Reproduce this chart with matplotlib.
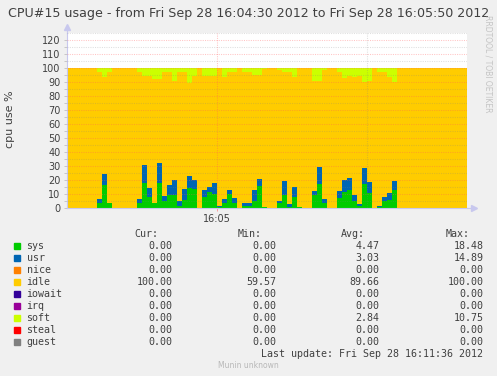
#!/usr/bin/env python3
# -*- coding: utf-8 -*-

"""
Munin style CPU usage graph (one second per step), redrawn with matplotlib.
"""

import numpy as np
from matplotlib import pyplot as plt
from matplotlib.patches import Rectangle

W, H = 497, 376

# DATA ######################################################################

# one value per second from 16:04:30 to 16:05:50
cpu_sys = [0, 0, 0, 0, 0, 0, 3.3, 16.4, 3.8, 0,
           0, 0, 0, 0, 3.3, 18.0, 8.0, 3.3, 18.0, 5.0,
           9.3, 9.3, 1.7, 5.7, 14.5, 13.6, 0, 8.0, 11.2, 9.8,
           0.5, 3.3, 9.8, 3.3, 0, 1.7, 1.7, 5.2, 15.5, 0.5,
           0, 0, 3.3, 9.3, 1.0, 8.0, 0.5, 0, 0, 9.3,
           17.1, 3.3, 0, 0, 7.4, 11.7, 12.9, 5.2, 1.7, 17.1,
           10.5, 0, 1.0, 5.2, 5.7, 13.1, 0, 0, 0, 0,
           0, 0, 0, 0, 0, 0, 0, 0, 0, 0]

cpu_usr = [0, 0, 0, 0, 0, 0, 3.1, 8.1, 0, 0,
           0, 0, 0, 0, 3.1, 12.7, 6.5, 0.5, 14.0, 3.6,
           7.1, 10.7, 3.5, 7.9, 8.4, 6.4, 0, 4.9, 4.0, 7.8,
           1.2, 3.1, 3.1, 3.6, 0, 2.1, 1.6, 7.7, 5.2, 0,
           0, 0, 1.7, 10.2, 1.6, 6.8, 0, 0, 0, 2.8,
           11.9, 3.1, 0, 0, 4.7, 8.3, 8.3, 4.1, 0.9, 11.5,
           8.1, 0, 0.7, 2.4, 4.8, 6.2, 0, 0, 0, 0,
           0, 0, 0, 0, 0, 0, 0, 0, 0, 0]

cpu_idle = [100, 100, 100, 100, 100, 100, 90.5, 68.8, 93.1, 100,
            100, 100, 100, 100, 90.5, 63.8, 80.0, 88.6, 60.4, 88.3,
            80.5, 71.0, 91.7, 83.3, 66.4, 74.5, 100, 81.6, 79.3, 76.4,
            98.3, 87.4, 84.5, 90.5, 100, 93.1, 93.6, 82.1, 74.3, 99.0,
            100, 100, 93.5, 77.4, 94.3, 78.5, 99.5, 100, 100, 78.9,
            61.5, 92.2, 100, 100, 84.8, 72.9, 73.3, 84.0, 91.9, 61.2,
            72.4, 100, 95.2, 89.3, 82.8, 70.5, 100, 100, 100, 100,
            100, 100, 100, 100, 100, 100, 100, 100, 100, 100]

cpu_soft = [0, 0, 0, 0, 0, 0, 3.1, 6.7, 3.1, 0,
            0, 0, 0, 0, 3.1, 5.5, 5.5, 7.6, 7.6, 3.1,
            3.1, 9.0, 3.1, 3.1, 10.7, 5.5, 0, 5.5, 5.5, 6.0,
            0, 6.2, 2.6, 2.6, 0, 3.1, 3.1, 5.0, 5.0, 0.5,
            0, 0, 1.5, 3.1, 3.1, 6.7, 0, 0, 0, 9.0,
            9.5, 1.4, 0, 0, 3.1, 7.1, 5.5, 6.7, 5.5, 10.2,
            9.0, 0, 3.1, 3.1, 6.7, 10.2, 0, 0, 0, 0,
            0, 0, 0, 0, 0, 0, 0, 0, 0, 0]

# legend table
names = ['sys', 'usr', 'nice', 'idle', 'iowait', 'irq', 'soft', 'steal', 'guest']
colors = ['#00cc00', '#0066b3', '#ff8000', '#ffcc00', '#330099',
          '#990099', '#ccff00', '#ff0000', '#808080']
cur = [0.00, 0.00, 0.00, 100.00, 0.00, 0.00, 0.00, 0.00, 0.00]
vmin = [0.00, 0.00, 0.00, 59.57, 0.00, 0.00, 0.00, 0.00, 0.00]
vavg = [4.47, 3.03, 0.00, 89.66, 0.00, 0.00, 2.84, 0.00, 0.00]
vmax = [18.48, 14.89, 0.00, 100.00, 0.00, 0.00, 10.75, 0.00, 0.00]

y_ticks = list(range(0, 130, 10))
x_tick_pos = [30]
x_tick_labels = ['16:05']

TITLE = 'CPU#15 usage - from Fri Sep 28 16:04:30 2012 to Fri Sep 28 16:05:50 2012'
TXT = '#404040'
BG = '#f0f0f0'
MINOR = (0.5, 0.5, 0.5, 0.25)
MAJOR = (1.0, 0.35, 0.35, 0.35)


def fx(px):
    return px / W


def fy(py):
    return 1 - py / H


# PLOT ######################################################################

fig = plt.figure(figsize=(W / 100, H / 100), dpi=100, facecolor=BG)
ax = fig.add_axes([fx(66.7), fy(208), 400 / W, 175 / H])
ax.set_facecolor('white')
ax.set_xlim(0, 80)
ax.set_ylim(0, 125)

t = np.arange(len(cpu_sys) + 1)
series = [cpu_sys, cpu_usr, cpu_idle, cpu_soft]
series = [s + [s[-1]] for s in series]
ax.stackplot(t, series, colors=['#00cc00', '#0066b3', '#ffcc00', '#ccff00'],
             step='post', linewidth=0, zorder=1)

# grid on top of the data, like rrdtool
for v in range(5, 126, 5):
    ax.axhline(v, color=MAJOR if v % 10 == 0 else MINOR, lw=0.75,
               ls=(0, (1, 1.2)), zorder=3)
ax.axvline(60, color=MINOR, lw=0.75, ls=(0, (1, 1.2)), zorder=3)
ax.axvline(30, color=MAJOR, lw=0.75, ls=(0, (1, 1.2)), zorder=3)

for side in ['top', 'right']:
    ax.spines[side].set_visible(False)
for side in ['left', 'bottom']:
    ax.spines[side].set_color('#c8c8ee')
    ax.spines[side].set_linewidth(0.8)

# axis arrows
ax.plot([0, 0], [125, 128.5], color='#c8c8ee', lw=0.8, clip_on=False)
ax.plot([80, 81.2], [0, 0], color='#c8c8ee', lw=0.8, clip_on=False)
ax.plot([0], [129], marker='^', ms=5, color='#c8c8ee', clip_on=False)
ax.plot([81.5], [0], marker='>', ms=5, color='#c8c8ee', clip_on=False)

ax.set_yticks(y_ticks)
ax.set_yticks(range(5, 125, 10), minor=True)
ax.set_xticks(x_tick_pos)
ax.set_xticklabels(x_tick_labels)
ax.tick_params(axis='y', which='both', length=2.5, width=0.6, color='#c0c0c0',
               labelsize=7, labelcolor=TXT, pad=2)
ax.tick_params(axis='x', length=2.5, width=0.6, color='#ff9090',
               labelsize=7, labelcolor=TXT, pad=2)

# TEXTS #####################################################################

fig.text(fx(248.5), fy(13), TITLE, ha='center', va='center', fontsize=9.1, color=TXT)
fig.text(fx(10.5), fy(119), 'cpu use %', rotation=90, ha='center', va='center',
         fontsize=8, color=TXT)
fig.text(fx(488), fy(15), 'RRDTOOL / TOBI OETIKER', rotation=270, ha='center',
         va='top', fontsize=5.5, color='#c4c4c4')

mono = dict(family='DejaVu Sans Mono', fontsize=7.2, color=TXT, va='center')
for hx, h in zip([158, 262, 365, 470], ['Cur:', 'Min:', 'Avg:', 'Max:']):
    fig.text(fx(hx), fy(234), h, ha='right', **mono)

for i, name in enumerate(names):
    yy = 245.7 + 12 * i
    fig.patches.append(Rectangle((fx(14), fy(yy + 3)), 6 / W, 6 / H,
                                 transform=fig.transFigure, color=colors[i]))
    fig.text(fx(26.5), fy(yy), name, ha='left', **mono)
    for cx, val in zip([172.3, 276.3, 379.3, 483.3], [cur[i], vmin[i], vavg[i], vmax[i]]):
        fig.text(fx(cx), fy(yy), '%.2f' % val, ha='right', **mono)

fig.text(fx(483.3), fy(353.7), 'Last update: Fri Sep 28 16:11:36 2012', ha='right', **mono)
fig.text(fx(248), fy(365.3), 'Munin unknown', ha='center', va='center',
         fontsize=5.5, color='#b8b8b8')

fig.savefig('out.png', dpi=100, facecolor=BG)
